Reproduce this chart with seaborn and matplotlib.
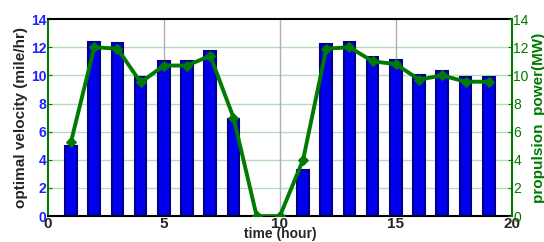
import matplotlib
matplotlib.use("Agg")
import matplotlib.pyplot as plt
import seaborn as sns
import pandas as pd

hours = list(range(1, 20))
velocity = [5.0, 12.4, 12.3, 9.9, 11.0, 11.0, 11.7, 6.9, 0, 0, 3.3, 12.2, 12.4, 11.3, 11.1, 10.0, 10.3, 9.9, 9.9]
power = [5.3, 12.0, 11.9, 9.5, 10.7, 10.7, 11.4, 7.0, 0, 0, 4.0, 11.9, 12.0, 11.0, 10.8, 9.7, 10.0, 9.55, 9.55]
xticks = [0, 5, 10, 15, 20]
yticks = [0, 2, 4, 6, 8, 10, 12, 14]

df = pd.DataFrame({"hour": hours, "velocity": velocity, "power": power})

sns.set_style("white")
plt.rcParams['font.family'] = ['Liberation Sans', 'DejaVu Sans']

green = "#007a00"
fig = plt.figure(figsize=(5.44, 2.42), dpi=100)
ax = fig.add_axes([0.088, 0.107, 0.853, 0.814])

for y in yticks[1:-1]:
    ax.axhline(y, color="#b8dcb8", lw=1.0, zorder=0)
for x in [5, 10, 15]:
    ax.axvline(x, color="#b0b0b0", lw=1.0, zorder=0)

sns.barplot(data=df, x="hour", y="velocity", native_scale=True, width=0.5,
            color="#0000ee", edgecolor="#00008b", linewidth=1.5, saturation=1, ax=ax, zorder=2)
ax.set_xlim(0, 20)
ax.set_ylim(0, 14)
ax.set_xticks(xticks)
ax.set_xticklabels([str(t) for t in xticks], fontweight="bold", fontsize=11)
ax.set_yticks(yticks)
ax.set_yticklabels([str(t) for t in yticks], fontweight="bold", fontsize=10, color="#2020ff")
ax.tick_params(axis="both", direction="in", length=3, pad=1)
ax.tick_params(axis="y", colors=green, labelcolor="#2020ff")
ax.set_xlabel("time (hour)", fontweight="bold", fontsize=10, labelpad=-3)
ax.set_ylabel("optimal velocity (mile/hr)", fontweight="bold", fontsize=11, labelpad=2)
for s in ["top", "bottom"]:
    ax.spines[s].set_color("black")
    ax.spines[s].set_linewidth(1.5)
ax.spines["left"].set_color(green)
ax.spines["left"].set_linewidth(1.5)
ax.spines["right"].set_visible(False)

ax2 = ax.twinx()
sns.lineplot(data=df, x="hour", y="power", color=green, lw=2.8, marker="D",
             markersize=5, markeredgecolor=green, ax=ax2, zorder=3)
ax2.set_ylim(0, 14)
ax2.set_yticks(yticks)
ax2.set_yticklabels([str(t) for t in yticks], fontsize=10, color=green)
ax2.tick_params(axis="y", direction="in", length=3, pad=1, colors=green)
ax2.set_ylabel("propulsion  power(MW)", fontweight="bold", fontsize=11, color=green, labelpad=2)
for s in ["top", "bottom", "left"]:
    ax2.spines[s].set_visible(False)
ax2.spines["right"].set_color(green)
ax2.spines["right"].set_linewidth(1.5)

fig.savefig("out.png", dpi=100)
